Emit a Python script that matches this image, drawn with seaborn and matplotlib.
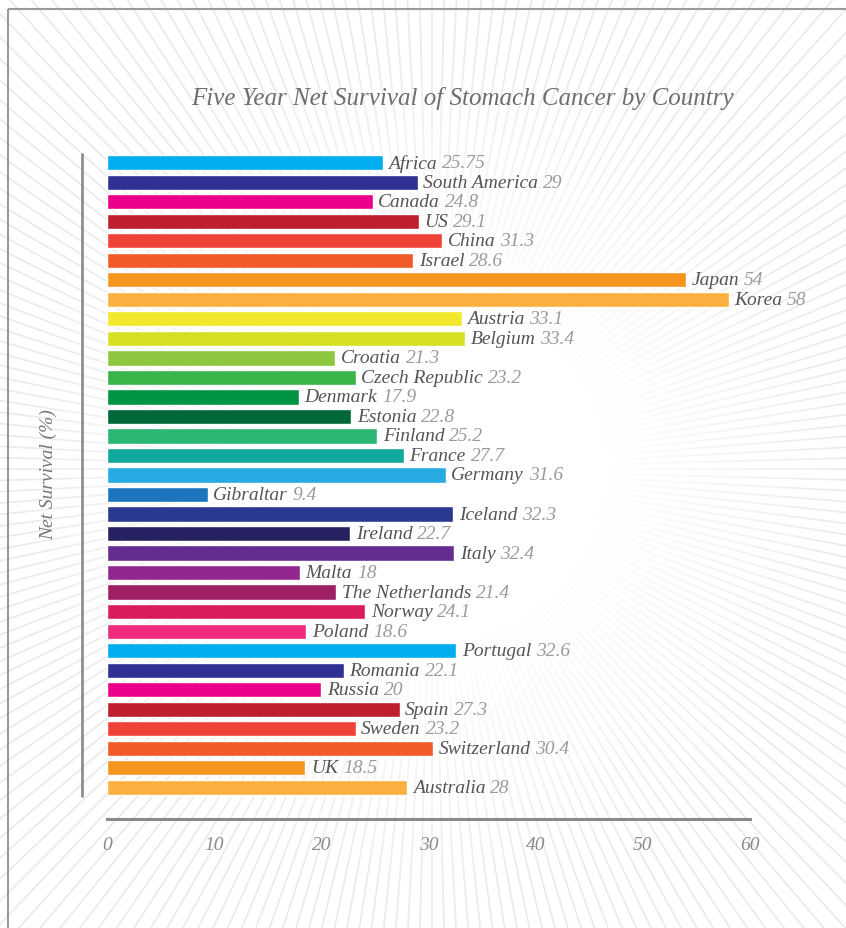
import numpy as np
import pandas as pd
import matplotlib
matplotlib.use("Agg")
import matplotlib.pyplot as plt
from matplotlib.lines import Line2D
from matplotlib.patches import Rectangle
import seaborn as sns

countries = ["Africa", "South America", "Canada", "US", "China", "Israel", "Japan", "Korea",
             "Austria", "Belgium", "Croatia", "Czech Republic", "Denmark", "Estonia", "Finland",
             "France", "Germany", "Gibraltar", "Iceland", "Ireland", "Italy", "Malta",
             "The Netherlands", "Norway", "Poland", "Portugal", "Romania", "Russia", "Spain",
             "Sweden", "Switzerland", "UK", "Australia"]
values = [25.75, 29, 24.8, 29.1, 31.3, 28.6, 54, 58, 33.1, 33.4, 21.3, 23.2, 17.9, 22.8, 25.2,
          27.7, 31.6, 9.4, 32.3, 22.7, 32.4, 18, 21.4, 24.1, 18.6, 32.6, 22.1, 20, 27.3,
          23.2, 30.4, 18.5, 28]
value_labels = ["25.75", "29", "24.8", "29.1", "31.3", "28.6", "54", "58", "33.1", "33.4", "21.3",
                "23.2", "17.9", "22.8", "25.2", "27.7", "31.6", "9.4", "32.3", "22.7", "32.4", "18",
                "21.4", "24.1", "18.6", "32.6", "22.1", "20", "27.3", "23.2", "30.4", "18.5", "28"]
colors = ["#00AEEF", "#2E3192", "#EC008C", "#BE1E2D", "#EF4136", "#F15A29", "#F7941D", "#FBB040",
          "#F2E92E", "#D7DF23", "#8DC63F", "#39B54A", "#009444", "#006838", "#2BB673", "#12A89D",
          "#27AAE1", "#1C75BC", "#2B3990", "#262262", "#662D91", "#92278F", "#9E1F63", "#DA1C5C",
          "#EE2A7B", "#00AEEF", "#2E3192", "#EC008C", "#BE1E2D", "#EF4136", "#F15A29", "#F7941D",
          "#FBB040"]
x_ticks = [0, 10, 20, 30, 40, 50, 60]

sns.set_theme(style="white")
plt.rcParams["font.family"] = ["Liberation Serif", "DejaVu Serif"]

W, H = 846, 929
fig = plt.figure(figsize=(W / 100, H / 100), dpi=100)
fig.patch.set_facecolor("white")

# background sunburst with fading centre
bg = fig.add_axes([0, 0, 1, 1], zorder=0)
bg.set_xlim(0, W)
bg.set_ylim(H, 0)
bg.axis("off")
cx, cy = 432, 470
R = 1400
for ang in np.arange(0, 360, 1.5):
    a = np.deg2rad(ang)
    bg.plot([cx, cx + R * np.cos(a)], [cy, cy + R * np.sin(a)],
            color="#eaeaea", lw=1.2, solid_capstyle="butt", zorder=1)
yy, xx = np.mgrid[0:H, 0:W]
rr = np.hypot(xx - cx, yy - cy)
alpha = np.clip((430 - rr) / 260, 0, 1)
overlay = np.ones((H, W, 4))
overlay[..., 3] = alpha
bg.imshow(overlay, extent=(0, W, H, 0), zorder=2, interpolation="bilinear", aspect="auto")
bg.set_xlim(0, W)
bg.set_ylim(H, 0)
bg.add_patch(Rectangle((8, 10), 2000, 2000, fill=False, edgecolor="#9a9a9a", lw=1.5, zorder=3))

# main axes
x0, x1 = 107, 750
ytop, ybot = 154, 798
ax = fig.add_axes([x0 / W, 1 - ybot / H, (x1 - x0) / W, (ybot - ytop) / H], zorder=2)
ax.patch.set_alpha(0)
df = pd.DataFrame({"country": countries, "value": values})
sns.barplot(data=df, y="country", x="value", hue="country", palette=colors, legend=False,
            orient="h", width=0.78, saturation=1, ax=ax)
ax.set_xlim(0, 60)
ax.set_ylim(len(countries) - 0.5, -0.5)
ax.set_yticks([])
ax.set_ylabel("")
ax.set_xlabel("")
for s in ["top", "right", "left"]:
    ax.spines[s].set_visible(False)
ax.spines["bottom"].set_position(("outward", 16))
ax.spines["bottom"].set_color("#8a8a8a")
ax.spines["bottom"].set_linewidth(2.2)
ax.set_xticks(x_ticks)
ax.set_xticklabels([str(t) for t in x_ticks], fontsize=14, style="italic", color="#8a8a8a")
ax.tick_params(axis="x", length=0, pad=12)

for i, (c, v, lab) in enumerate(zip(countries, values, value_labels)):
    t = ax.annotate(c, xy=(v, i), xytext=(4, 0), textcoords="offset points",
                    va="center", ha="left", fontsize=14, style="italic", color="#555555")
    ax.annotate(lab, xy=(1, 0.5), xycoords=t, xytext=(3.5, 0), textcoords="offset points",
                va="center", ha="left", fontsize=14, style="italic", color="#9a9a9a")

# left vertical line
fig.add_artist(Line2D([82 / W, 82 / W], [1 - 155 / H, 1 - 797 / H], color="#8f8f8f", lw=2))
fig.text(48 / W, 1 - 475 / H, "Net Survival (%)", rotation=90, ha="center", va="center",
         fontsize=14, style="italic", color="#777777")
fig.text(462 / W, 1 - 98 / H, "Five Year Net Survival of Stomach Cancer by Country",
         ha="center", va="center", fontsize=18, style="italic", color="#6e6e6e")

fig.savefig("out.png", dpi=100, facecolor="white")
